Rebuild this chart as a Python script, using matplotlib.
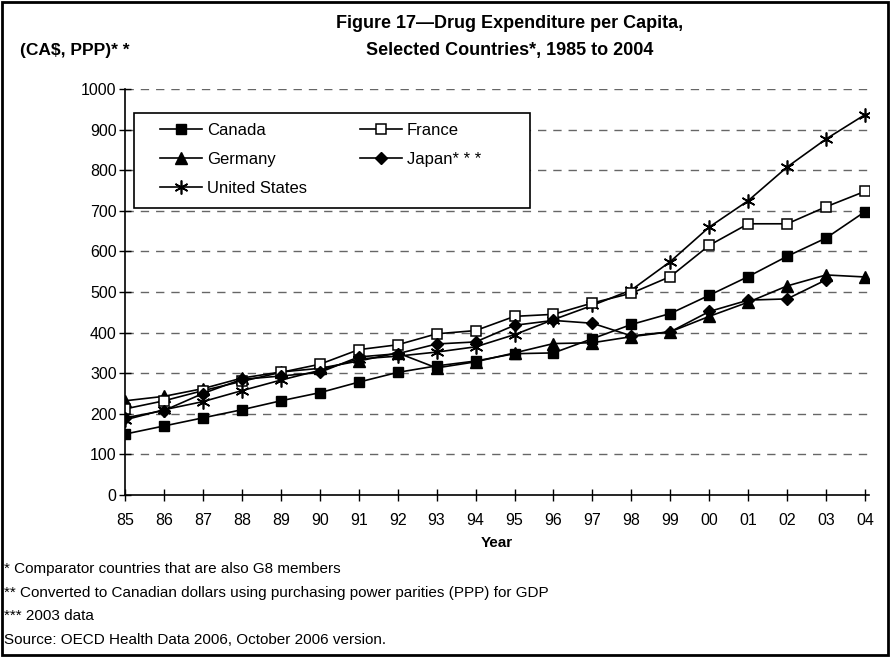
import matplotlib.pyplot as plt
from matplotlib.patches import Rectangle
import numpy as np

years = ["85", "86", "87", "88", "89", "90", "91", "92", "93", "94",
         "95", "96", "97", "98", "99", "00", "01", "02", "03", "04"]

canada = [150, 170, 190, 210, 232, 252, 278, 302, 318, 330,
          348, 350, 385, 420, 447, 492, 538, 588, 633, 698]
france = [212, 232, 257, 280, 302, 322, 358, 370, 397, 405,
          440, 445, 473, 497, 538, 615, 668, 668, 710, 748]
germany = [232, 243, 262, 288, 303, 312, 330, 350, 313, 328,
           350, 373, 375, 390, 402, 440, 475, 515, 542, 537]
japan = [190, 208, 250, 285, 293, 302, 340, 348, 372, 377,
         418, 430, 423, 392, 402, 452, 480, 483, 530, np.nan]
usa = [185, 210, 230, 257, 283, 307, 335, 342, 352, 365,
       395, 432, 467, 505, 575, 660, 725, 808, 877, 937]

plt.rcParams['font.family'] = ['Liberation Sans', 'DejaVu Sans']

fig = plt.figure(figsize=(8.9, 6.57), dpi=100)
ax = fig.add_axes([125 / 890, 162 / 657, 744 / 890, 406 / 657])

x = np.arange(len(years))
lw = 1.2
ms = 7
ax.plot(x, canada, color="black", lw=lw, marker="s", ms=ms, mfc="black", label="Canada")
ax.plot(x, germany, color="black", lw=lw, marker="^", ms=ms + 1.5, mfc="black", label="Germany")
ax.plot(x, usa, color="black", lw=lw, marker=(6, 2, 0), ms=ms + 3, mew=1.2, label="United States")
ax.plot(x, france, color="black", lw=lw, marker="s", ms=ms, mfc="white", mew=1.1, label="France")
ax.plot(x, japan, color="black", lw=lw, marker="D", ms=ms - 1, mfc="black", label="Japan* * *")

ax.set_xlim(0, 19.1)
ax.set_ylim(0, 1000)
ax.set_xticks(x)
ax.set_xticklabels(years)
ax.set_yticks(np.arange(0, 1001, 100))
ax.tick_params(axis="both", direction="inout", length=8, width=1, labelsize=11.5, colors="black")
ax.tick_params(axis="x", pad=9)
ax.tick_params(axis="y", pad=2)
ax.spines["top"].set_visible(False)
ax.spines["right"].set_visible(False)
ax.spines["left"].set_linewidth(1.2)
ax.spines["bottom"].set_linewidth(1.2)
for v in range(100, 1001, 100):
    ax.axhline(v, color="#666666", lw=1, ls=(0, (6, 5)), zorder=0)

ax.set_xlabel("Year", fontweight="bold", fontsize=11, labelpad=6)

# legend frame drawn separately so the inner padding can differ per side
ax.add_patch(Rectangle((9 / 744, 287 / 406), 396 / 744, 95 / 406, transform=ax.transAxes,
                       facecolor="white", edgecolor="black", lw=1.2, zorder=4))
leg = ax.legend(ncol=2, loc="upper left", bbox_to_anchor=(35 / 744, 372 / 406),
                borderaxespad=0, borderpad=0, frameon=False,
                fontsize=12, handlelength=2.5, columnspacing=3.2, labelspacing=0.85,
                handletextpad=0.3)
leg.set_zorder(5)

fig.text(510 / 890, 1 - 24 / 657, "Figure 17\u2014Drug Expenditure per Capita,", ha="center", va="center",
         fontsize=13, fontweight="bold")
fig.text(510 / 890, 1 - 50 / 657, "Selected Countries*, 1985 to 2004", ha="center", va="center",
         fontsize=13, fontweight="bold")
fig.text(20 / 890, 1 - 50 / 657, "(CA\\$, PPP)* *", ha="left", va="center",
         fontsize=12.5, fontweight="bold")

notes = ["* Comparator countries that are also G8 members",
         "** Converted to Canadian dollars using purchasing power parities (PPP) for GDP",
         "*** 2003 data",
         "Source: OECD Health Data 2006, October 2006 version."]
for i, t in enumerate(notes):
    fig.text(4 / 890, 1 - (569 + i * 23.5) / 657, t, ha="left", va="center", fontsize=11)

fig.patches.append(Rectangle((0.002, 0.003), 0.996, 0.994, transform=fig.transFigure,
                             fill=False, edgecolor="black", lw=2))

fig.savefig("out.png", dpi=100)
